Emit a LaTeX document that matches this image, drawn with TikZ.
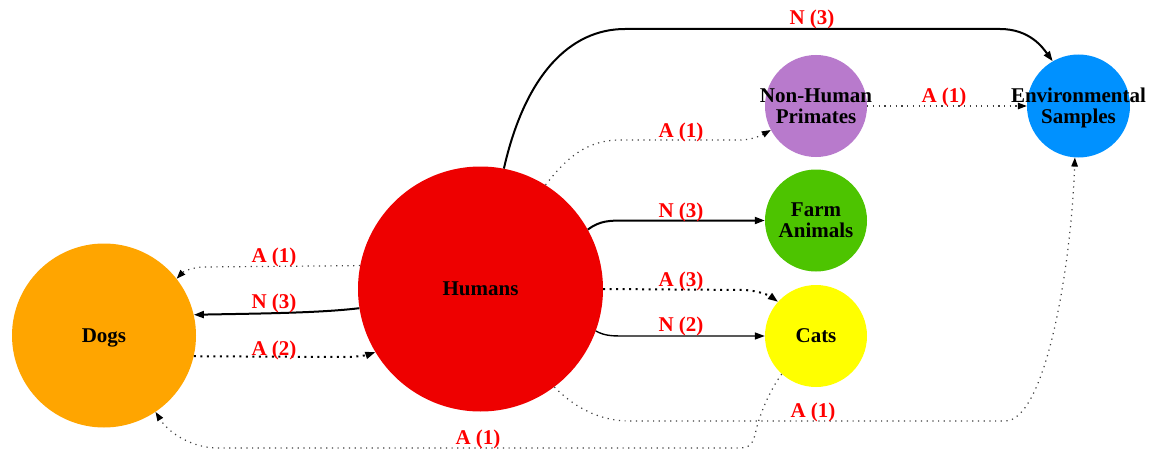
\documentclass[tikz,border=0pt]{standalone}
\usepackage{fontspec}
\setmainfont{Liberation Serif}
\usetikzlibrary{arrows.meta}

\definecolor{dogc}{HTML}{FFA500}
\definecolor{humc}{HTML}{EE0000}
\definecolor{pric}{HTML}{B87ACC}
\definecolor{farmc}{HTML}{4DC400}
\definecolor{catc}{HTML}{FFFF00}
\definecolor{envc}{HTML}{0091FF}

% two centred lines whose width does not count, baseline at the last line
\newcommand{\twol}[2]{\vbox{\hbox to 0pt{\hss#1\hss}\hbox to 0pt{\hss#2\hss}}}

\begin{document}
\begin{tikzpicture}[x=1pt,y=-1pt,
  blob/.style={circle, draw=none, inner sep=0pt, text depth=0pt,
    font=\bfseries\fontsize{21}{21}\selectfont},
  elab/.style={text=red, anchor=base, inner sep=0pt,
    font=\bfseries\fontsize{21}{21}\selectfont},
  tip/.style={-{Triangle[length=10pt,width=7pt]}},
  thintip/.style={-{Triangle[length=9pt,width=6.5pt,color=black]}},
  nthick/.style={tip, line width=2pt},
  nthin/.style={tip, line width=1.4pt},
  adot/.style={thintip, line width=1.2pt, dash pattern=on 1.2pt off 4.5pt, draw=black!75},
  adotb/.style={tip, line width=2pt, dash pattern=on 2pt off 4.5pt},
]
\useasboundingbox[fill=white] (0,0) rectangle (1160,452);

% species
\node[blob, fill=dogc, minimum size=184pt] (dogs) at (104,335.5) {Dogs};
\node[blob, fill=humc, minimum size=245pt] (hum) at (480.5,289) {Humans};
\node[blob, fill=pric, minimum size=102pt] (pri) at (816,106) {\twol{Non-Human}{Primates}};
\node[blob, fill=farmc, minimum size=102pt] (farm) at (816,220.5) {\twol{Farm}{Animals}};
\node[blob, fill=catc, minimum size=102pt] (cats) at (816,336) {Cats};
\node[blob, fill=envc, minimum size=103pt] (env) at (1078.5,106) {\twol{Environmental}{Samples}};

% Humans -> Environmental Samples, over the top
\draw[nthick] (hum.79.5) .. controls (525,75) and (570,29) .. (625,29)
  -- (1000,29) .. controls (1030,29) and (1043,48) .. (env.120);
\node[elab] (l1) at (812,25) {N (3)};

% Humans -> Non-Human Primates
\draw[adot] (hum.58.7) .. controls (565,160) and (585,140) .. (620,140)
  -- (740,140) .. controls (752,140) and (762,135) .. (pri.208);
\node[elab] (l2) at (681,137) {A (1)};

% Non-Human Primates -> Environmental Samples
\draw[adot] (pri.east) -- (env.west);
\node[elab] (l3) at (944,102.5) {A (1)};

% Humans -> Farm Animals
\draw[nthick] (hum.29.8) .. controls (600,220.5) and (610,220.5) .. (625,220.5) -- (farm.west);
\node[elab] (l4) at (681,217.5) {N (3)};

% Humans -> Cats
\draw[adotb] (hum.east) -- (745,290) .. controls (760,291) and (770,296) .. (cats.138.8);
\node[elab] (l5) at (681,286) {A (3)};
\draw[nthin] (hum.-20.9) .. controls (605,336) and (612,336) .. (625,336) -- (cats.west);
\node[elab] (l6) at (681,331.5) {N (2)};

% Humans <-> Dogs
\draw[adot] (hum.169.6) -- (205,267) .. controls (192,267) and (183,272) .. (dogs.38.6);
\node[elab] (l7) at (274,262.5) {A (1)};
\draw[nthick] (hum.189.8) .. controls (320,313) and (260,313.5) .. (dogs.13.6);
\node[elab] (l8) at (274,308.5) {N (3)};
\draw[adotb] (dogs.-13.6) -- (345,357) .. controls (357,357) and (367,355) .. (hum.211.1);
\node[elab] (l9) at (274,355) {A (2)};

% Humans -> Environmental Samples, along the bottom
\draw[adot] (hum.-53.3) .. controls (575,408) and (600,421) .. (630,421)
  -- (1005,421) .. controls (1045,421) and (1071,270) .. (env.266.1);
\node[elab] (l10) at (813,417.5) {A (1)};

% Cats -> Dogs, along the very bottom
\draw[adot] (cats.228.1) .. controls (770,390) and (759,415) .. (755,435)
  .. controls (752,446) and (748,448) .. (738,448)
  -- (217,448) .. controls (195,448) and (170,435) .. (dogs.-56.7);
\node[elab] (l11) at (478,444) {A (1)};
\end{tikzpicture}
\end{document}
